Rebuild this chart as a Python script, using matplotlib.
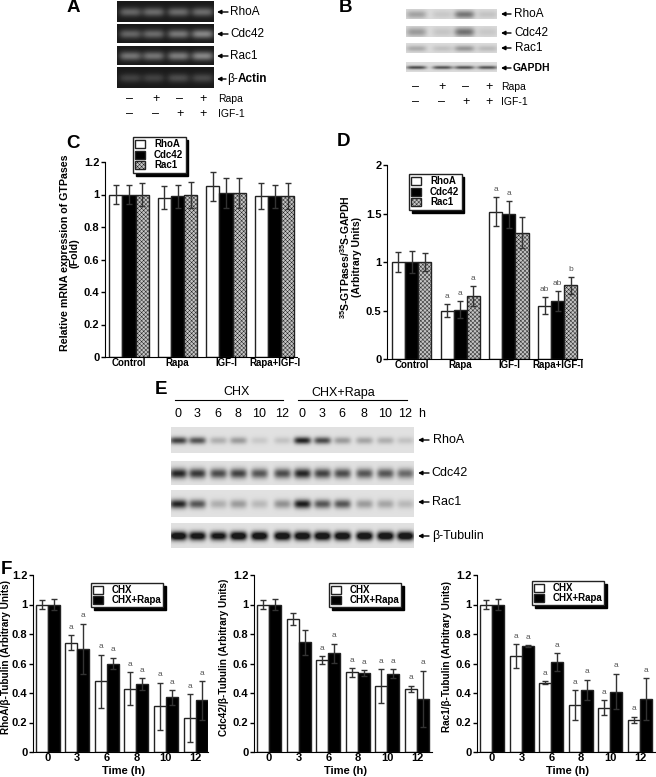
import numpy as np
import matplotlib
matplotlib.use("Agg")
import matplotlib.pyplot as plt

W, H = 656, 777
plt.rcParams['font.family'] = ['Liberation Sans', 'DejaVu Sans']
plt.rcParams['hatch.linewidth'] = 0.35
plt.rcParams['mathtext.fontset'] = 'custom'
plt.rcParams['mathtext.rm'] = 'Liberation Sans:bold'
plt.rcParams['mathtext.default'] = 'rm'

# panel C
groups = ["Control", "Rapa", "IGF-I", "Rapa+IGF-I"]
c_rhoa = [1.0, 0.98, 1.05, 0.99]
c_cdc42 = [1.0, 0.99, 1.01, 0.99]
c_rac1 = [1.0, 1.0, 1.01, 0.99]
c_rhoa_err = [0.06, 0.07, 0.09, 0.08]
c_cdc42_err = [0.06, 0.07, 0.09, 0.07]
c_rac1_err = [0.07, 0.08, 0.09, 0.08]

# panel D
d_rhoa = [1.0, 0.5, 1.52, 0.55]
d_cdc42 = [1.0, 0.51, 1.49, 0.6]
d_rac1 = [1.0, 0.65, 1.3, 0.76]
d_rhoa_err = [0.1, 0.07, 0.15, 0.09]
d_cdc42_err = [0.11, 0.09, 0.14, 0.1]
d_rac1_err = [0.09, 0.1, 0.16, 0.09]
d_rhoa_sig = ["", "a", "a", "ab"]
d_cdc42_sig = ["", "a", "a", "ab"]
d_rac1_sig = ["", "a", "", "b"]

# panel F
hours = [0, 3, 6, 8, 10, 12]
f1_chx = [1.0, 0.74, 0.48, 0.43, 0.31, 0.23]
f1_chx_err = [0.03, 0.05, 0.18, 0.11, 0.16, 0.16]
f1_rapa = [1.0, 0.7, 0.6, 0.46, 0.37, 0.35]
f1_rapa_err = [0.04, 0.17, 0.04, 0.04, 0.05, 0.13]
f1_chx_sig = ["", "a", "a", "a", "a", "a"]
f1_rapa_sig = ["", "a", "a", "a", "a", "a"]

f2_chx = [1.0, 0.9, 0.625, 0.54, 0.445, 0.43]
f2_chx_err = [0.03, 0.04, 0.025, 0.03, 0.115, 0.02]
f2_rapa = [1.0, 0.745, 0.67, 0.535, 0.53, 0.36]
f2_rapa_err = [0.04, 0.085, 0.065, 0.02, 0.03, 0.19]
f2_chx_sig = ["", "", "a", "a", "a", "a"]
f2_rapa_sig = ["", "", "a", "a", "a", "a"]

f3_chx = [1.0, 0.65, 0.47, 0.32, 0.3, 0.22]
f3_chx_err = [0.03, 0.08, 0.01, 0.1, 0.05, 0.02]
f3_rapa = [1.0, 0.72, 0.61, 0.42, 0.41, 0.36]
f3_rapa_err = [0.04, 0.005, 0.06, 0.07, 0.12, 0.14]
f3_chx_sig = ["", "a", "a", "a", "a", "a"]
f3_rapa_sig = ["", "a", "a", "a", "a", "a"]

# band strength per lane, blots
a_rhoa = [0.42, 0.45, 0.45, 0.45]
a_cdc42 = [0.42, 0.45, 0.52, 0.6]
a_rac1 = [0.5, 0.5, 0.55, 0.6]
a_actin = [0.22, 0.22, 0.28, 0.26]
b_rhoa = [0.35, 0.12, 0.62, 0.15]
b_cdc42 = [0.4, 0.14, 0.65, 0.12]
b_rac1 = [0.3, 0.16, 0.42, 0.2]
b_gapdh = [0.85, 0.8, 0.8, 0.8]
e_rhoa = [0.8, 0.7, 0.25, 0.35, 0.12, 0.15, 0.95, 0.75, 0.35, 0.3, 0.25, 0.15]
e_cdc42 = [0.95, 0.85, 0.75, 0.8, 0.7, 0.75, 0.95, 0.8, 0.75, 0.7, 0.7, 0.6]
e_rac1 = [0.95, 0.7, 0.25, 0.35, 0.2, 0.4, 1.0, 0.7, 0.7, 0.35, 0.3, 0.2]
e_tubulin = [1.3, 1.2, 1.15, 1.3, 1.3, 1.3, 1.3, 1.3, 1.3, 1.3, 1.3, 1.3]

fig = plt.figure(figsize=(W / 100, H / 100), dpi=100)
ov = fig.add_axes([0, 0, 1, 1], zorder=5)
ov.patch.set_alpha(0)
ov.axis('off')


def blot(x0, y0, x1, y1, lanes, levels, bg, ink, bw, bh):
    yy, xx = np.mgrid[y0:y1, x0:x1]
    yc = (y0 + y1) / 2
    s = np.zeros(xx.shape)
    for c, l in zip(lanes, levels):
        s += l * np.exp(-((xx - c) / bw) ** 4 - ((yy - yc) / bh) ** 2)
    s = np.clip(s, 0, 1)
    ov.imshow(bg + (ink - bg) * s, cmap='gray', vmin=0, vmax=1, aspect='auto',
              extent=(x0, x1, y1, y0), interpolation='bilinear')


def arrow(x0, x1, y):
    ov.annotate('', xy=(x0, y), xytext=(x1, y),
                arrowprops=dict(arrowstyle='-|>', color='k', lw=1, mutation_scale=6,
                                shrinkA=0, shrinkB=0))


def txt(x, y, s, size=8.5, weight='normal', ha='left', **kw):
    ov.text(x, y, s, fontsize=size, fontweight=weight, ha=ha, va='center', **kw)


def make_axes(left, right, top, bottom, first, step, ymax, yticks, ylabels):
    ax = fig.add_axes([left / W, 1 - bottom / H, (right - left) / W, (bottom - top) / H])
    ax.set_xlim((left - first) / step, (right - first) / step)
    ax.set_ylim(0, ymax)
    ax.set_yticks(yticks)
    ax.set_yticklabels(ylabels, fontsize=8, fontweight='bold')
    ax.tick_params(axis='y', length=3, width=1, pad=1)
    ax.tick_params(axis='x', length=0)
    ax.spines['top'].set_visible(False)
    ax.spines['right'].set_visible(False)
    return ax


def bars(ax, x, vals, errs, w, color, hatch=None, label=None):
    return ax.bar(x, vals, w, color=color, edgecolor='#222222', linewidth=1, hatch=hatch,
                  label=label, yerr=errs, error_kw=dict(ecolor='#333333', elinewidth=1,
                                                        capsize=2.5, capthick=1))


def sig(ax, x, vals, errs, labels, off):
    for xi, v, e, s in zip(x, vals, errs, labels):
        if s:
            ax.text(xi, v + e + off, s, fontsize=6, color='#555555', ha='center', va='bottom')


def legend(ax, x0, y0, size, spacing, pad):
    leg = ax.legend(loc='upper left', bbox_to_anchor=(x0 / W, 1 - y0 / H),
                    bbox_transform=fig.transFigure, fancybox=False, framealpha=1,
                    edgecolor='#222222', shadow=dict(color='k', alpha=1),
                    prop=dict(size=size, weight='bold'), handlelength=1.0, handleheight=0.9,
                    labelspacing=spacing, borderpad=pad, handletextpad=0.9, borderaxespad=0)
    leg.get_frame().set_linewidth(1)
    return leg


# A
lanes_a = [130, 153, 178, 202]
for y0, y1, lv in [(1, 22, a_rhoa), (24, 43, a_cdc42), (46, 65, a_rac1), (67, 88, a_actin)]:
    blot(117, y0, 214, y1, lanes_a, lv, 0.1, 0.8, 11, 4.5)
for y, s in [(12, "RhoA"), (34, "Cdc42"), (56, "Rac1")]:
    arrow(217, 228, y)
    txt(230, y, s, 8.5)
arrow(217, 226, 79)
txt(227, 79, "β-", 8.5)
txt(238, 79, "Actin", 8.5, 'bold')
for x, a, b in zip([129, 156, 180, 203], "–+–+", "––++"):
    txt(x, 99, a, 9, ha='center')
    txt(x, 114, b, 9, ha='center')
txt(218, 99, "Rapa", 7.5)
txt(218, 114, "IGF-1", 7.5)

# B
lanes_b = [416, 442, 464, 487]
for y0, y1, lv, bh in [(9, 19, b_rhoa, 4), (26, 37, b_cdc42, 4.5), (43, 53, b_rac1, 3), (62, 72, b_gapdh, 1.8)]:
    blot(406, y0, 497, y1, lanes_b, lv, 0.86, 0.22, 10, bh)
for y, s, tx in [(14, "RhoA", 514), (33, "Cdc42", 514), (48, "Rac1", 515)]:
    arrow(501, 511, y)
    txt(tx, y, s, 8.5)
arrow(501, 511, 68)
txt(513, 68, "GAPDH", 7.5, 'bold')
for x, a, b in zip([415, 442, 466, 489], "–+–+", "––++"):
    txt(x, 87, a, 9, ha='center')
    txt(x, 102, b, 9, ha='center')
txt(501, 87, "Rapa", 7.5)
txt(501, 102, "IGF-1", 7.5)

# C and D
pos = np.arange(4)
ax = make_axes(105, 297, 162, 357, 129, 48.5, 1.2, [0, 0.2, 0.4, 0.6, 0.8, 1, 1.2],
               ['0', '0.2', '0.4', '0.6', '0.8', '1', '1.2'])
bw = 13.2 / 48.5
bars(ax, pos - bw, c_rhoa, c_rhoa_err, bw, 'white', label='RhoA')
bars(ax, pos, c_cdc42, c_cdc42_err, bw, 'black', label='Cdc42')
bars(ax, pos + bw, c_rac1, c_rac1_err, bw, '#c4c4c4', hatch='xxxxxxxx', label='Rac1')
ax.set_xticks(pos)
ax.set_xticklabels(groups, fontsize=7, fontweight='bold')
ax.tick_params(axis='x', pad=1)
legend(ax, 133, 137, 7, 0.05, 0.25)
txt(70, 253, "Relative mRNA expression of GTPases\n(Fold)", 7.7, 'bold', ha='center',
    rotation=90, linespacing=0.95, multialignment='center')

ax = make_axes(387, 582, 165, 359, 411.5, 48.7, 2, [0, 0.5, 1, 1.5, 2], ['0', '0.5', '1', '1.5', '2'])
bw = 13.1 / 48.7
bars(ax, pos - bw, d_rhoa, d_rhoa_err, bw, 'white', label='RhoA')
bars(ax, pos, d_cdc42, d_cdc42_err, bw, 'black', label='Cdc42')
bars(ax, pos + bw, d_rac1, d_rac1_err, bw, '#c4c4c4', hatch='xxxxxxxx', label='Rac1')
sig(ax, pos - bw, d_rhoa, d_rhoa_err, d_rhoa_sig, 0.04)
sig(ax, pos, d_cdc42, d_cdc42_err, d_cdc42_sig, 0.04)
sig(ax, pos + bw, d_rac1, d_rac1_err, d_rac1_sig, 0.04)
ax.set_xticks(pos)
ax.set_xticklabels(groups, fontsize=7, fontweight='bold')
ax.tick_params(axis='x', pad=1)
legend(ax, 409, 174, 7, 0.05, 0.25)
txt(350, 257, "$^{35}$S-GTPases/$^{35}$S-GAPDH\n(Arbitrary Units)", 7.5, 'bold', ha='center',
    rotation=90, linespacing=1.0, multialignment='center')

# E
lanes_e = [178, 197, 218, 238, 259, 282, 302, 322, 342, 364, 385, 405]
for y0, y1, lv, bh in [(427, 453, e_rhoa, 3.6), (461, 485, e_cdc42, 5), (490, 517, e_rac1, 4.5), (523, 548, e_tubulin, 4.5)]:
    blot(171, y0, 414, y1, lanes_e, lv, 0.88, 0.1, 8.5, bh)
for x, h in zip(lanes_e, hours + hours):
    txt(x, 414, str(h), 9, ha='center')
txt(422, 414, "h", 9, ha='center')
txt(237, 392, "CHX", 9, ha='center')
txt(343, 393, "CHX+Rapa", 9, ha='center')
ov.plot([175, 283], [400, 400], color='k', lw=0.8)
ov.plot([298, 407], [400, 400], color='k', lw=0.8)
for y, s, tx in [(440, "RhoA", 433), (473, "Cdc42", 431), (502, "Rac1", 432), (536, "β-Tubulin", 432)]:
    arrow(418, 429, y)
    txt(tx, y, s, 9)

# F
ticks_f = [0, 0.2, 0.4, 0.6, 0.8, 1, 1.2]
labels_f = ['0', '0.2', '0.4', '0.6', '0.8', '1', '1.2']
panels = [
    (33, 208, 47.5, 29.6, f1_chx, f1_chx_err, f1_rapa, f1_rapa_err, f1_chx_sig, f1_rapa_sig, (91, 583),
     "RhoA/β-Tubulin (Arbitrary Units)", 6, 123),
    (254, 432, 269, 29.6, f2_chx, f2_chx_err, f2_rapa, f2_rapa_err, f2_chx_sig, f2_rapa_sig, (329, 583),
     "Cdc42/β-Tubulin (Arbitrary Units)", 224, 345),
    (477, 655, 492, 29.6, f3_chx, f3_chx_err, f3_rapa, f3_rapa_err, f3_chx_sig, f3_rapa_sig, (532, 581),
     "Rac1/β-Tubulin (Arbitrary Units)", 447, 568),
]
pos_f = np.arange(6)
for left, right, first, step, chx, chx_e, rapa, rapa_e, chx_s, rapa_s, lg, yl, ylx, tx in panels:
    ax = make_axes(left, right, 575, 752, first, step, 1.2, ticks_f, labels_f)
    bw = 12 / step
    bars(ax, pos_f - bw / 2, chx, chx_e, bw, 'white', label='CHX')
    bars(ax, pos_f + bw / 2, rapa, rapa_e, bw, 'black', label='CHX+Rapa')
    sig(ax, pos_f - bw / 2, chx, chx_e, chx_s, 0.03)
    sig(ax, pos_f + bw / 2, rapa, rapa_e, rapa_s, 0.03)
    ax.set_xticks(pos_f)
    ax.set_xticklabels(hours, fontsize=8, fontweight='bold')
    ax.tick_params(axis='x', pad=1)
    legend(ax, lg[0], lg[1], 7, 0.0, 0.2)
    txt(ylx, 657, yl, 7.2, 'bold', ha='center', rotation=90)
    txt(tx, 771, "Time (h)", 8, 'bold', ha='center')

for x, y, s in [(73, 8, "A"), (345, 8, "B"), (73, 143, "C"), (344, 142, "D"), (161, 390, "E"), (6, 570, "F")]:
    txt(x, y, s, 13.5, 'bold', ha='center')

ov.set_xlim(0, W)
ov.set_ylim(H, 0)
fig.savefig("out.png", dpi=100)
